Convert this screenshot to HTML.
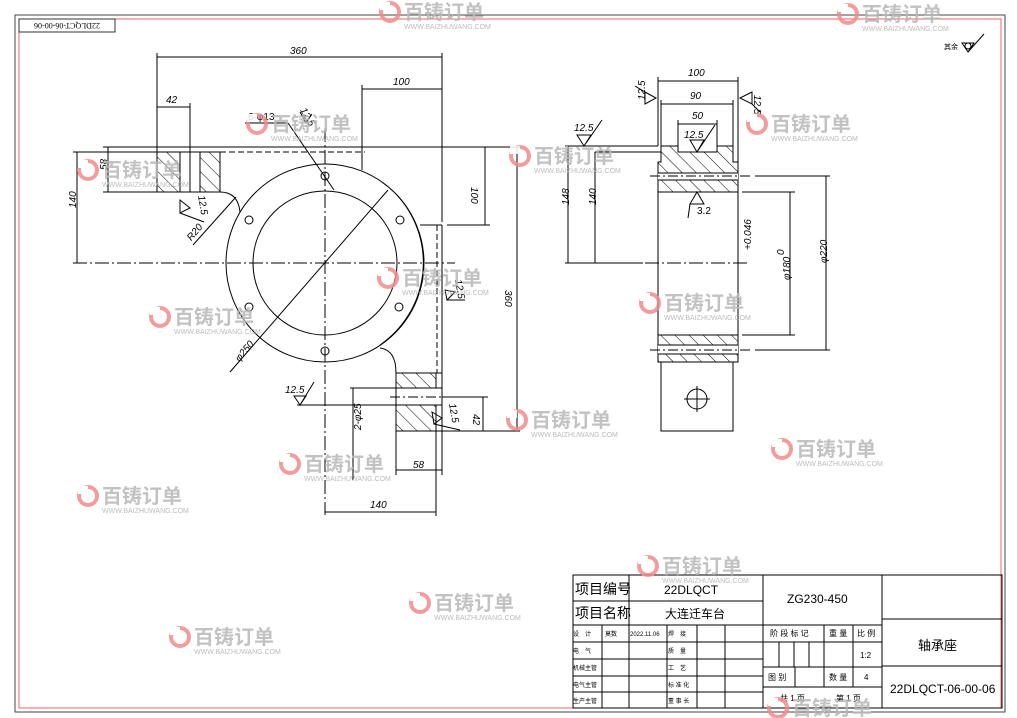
<!DOCTYPE html>
<html><head><meta charset="utf-8"><style>
html,body{margin:0;padding:0;background:#fff;}
svg{display:block;}
text{font-family:"Liberation Sans","Noto Sans CJK SC",sans-serif;}
.d{font-size:10px;font-style:italic;}
.c{font-family:"Liberation Serif","Noto Serif CJK SC",serif;}
.wm{font-family:"Liberation Sans","Noto Sans CJK SC",sans-serif;font-weight:bold;fill:#b8b8b8;font-size:20px;}
.wu{font-size:7px;fill:#b0b0b0;}
</style></head><body>
<svg width="1017" height="718" viewBox="0 0 1017 718" xmlns="http://www.w3.org/2000/svg">
<defs>
<pattern id="h" patternUnits="userSpaceOnUse" width="10" height="10" patternTransform="rotate(-45)">
<line x1="0" y1="0" x2="0" y2="10" stroke="#000" stroke-width="1"/>
</pattern>
<g id="wm">
<circle cx="10" cy="12" r="9" fill="none" stroke="#f28b8b" stroke-width="4"/>
<rect x="0" y="2" width="10" height="8" fill="#fff"/>
<text x="24" y="19" class="wm">百铸订单</text>
<text x="24" y="29" class="wu">WWW.BAIZHUWANG.COM</text>
</g>
</defs>
<!-- frame -->
<g fill="none">
<path d="M15 15 H1005 V712 H15 Z" stroke="#444" stroke-width="1"/>
<path d="M19 19 H1001 V708 H19 Z" stroke="#f06060" stroke-width="1"/>
<rect x="19" y="19" width="96" height="13" stroke="#333"/>
</g>
<text x="67" y="29" font-size="8" text-anchor="middle" transform="rotate(180 67 26)" class="c">22DLQCT-06-00-06</text>
<text x="944" y="49" font-size="7">其余</text>
<path d="M962 43 L974 43 L968 52 Z M968 52 L984 34" fill="none" stroke="#000"/>
<circle cx="968" cy="46" r="3" fill="none" stroke="#000"/>

<g stroke="#000" stroke-width="1" fill="none">
<!-- LEFT VIEW -->
<line x1="157" y1="57" x2="442" y2="57"/>
<line x1="157" y1="53" x2="157" y2="152"/>
<line x1="442" y1="53" x2="442" y2="222"/>
<line x1="362" y1="89" x2="442" y2="89"/>
<line x1="362" y1="85" x2="362" y2="170"/>
<line x1="157" y1="107" x2="190" y2="107"/>
<line x1="190" y1="103" x2="190" y2="192"/>
<line x1="103" y1="147" x2="520" y2="147"/>
<line x1="220" y1="152" x2="365" y2="152" stroke-dasharray="6 3"/>
<line x1="103" y1="192" x2="157" y2="192"/>
<line x1="108" y1="147" x2="108" y2="192"/>
<line x1="77" y1="152" x2="77" y2="263"/>
<line x1="73" y1="152" x2="157" y2="152"/>
<line x1="73" y1="263" x2="455" y2="263" stroke-dasharray="14 3 2 3"/>
<line x1="325" y1="128" x2="325" y2="515" stroke-dasharray="14 3 2 3"/>
<rect x="157" y="152" width="23" height="40" fill="url(#h)"/>
<rect x="200" y="152" width="20" height="40" fill="url(#h)"/>
<rect x="157" y="152" width="63" height="40"/>
<line x1="180" y1="152" x2="180" y2="192"/>
<line x1="200" y1="152" x2="200" y2="192"/>
<path d="M220 192 Q238 192 240 212"/>
<circle cx="325" cy="263" r="99"/>
<path d="M397 195 A100 100 0 0 1 380 345"/>
<circle cx="325" cy="263" r="72"/>
<g>
<circle cx="325" cy="176" r="4"/><circle cx="249" cy="220" r="4"/><circle cx="400" cy="220" r="4"/>
<circle cx="249" cy="307" r="4"/><circle cx="399" cy="307" r="4"/><circle cx="325" cy="351" r="4"/>
</g>
<line x1="388" y1="190" x2="230" y2="372"/>
<line x1="245" y1="123" x2="288" y2="123"/>
<line x1="288" y1="123" x2="334" y2="190"/>
<line x1="193" y1="245" x2="236" y2="197"/>
<!-- right portion -->
<line x1="420" y1="225" x2="442" y2="225"/>
<line x1="447" y1="225" x2="490" y2="225"/>
<line x1="485" y1="147" x2="485" y2="225"/>
<line x1="437" y1="225" x2="437" y2="373" stroke-dasharray="6 3"/>
<line x1="442" y1="225" x2="442" y2="475"/>
<path d="M380 348 Q396 350 396 373"/>
<rect x="396" y="373" width="40" height="15" fill="url(#h)"/>
<rect x="396" y="405" width="40" height="26" fill="url(#h)"/>
<rect x="396" y="373" width="46" height="58"/>
<line x1="396" y1="388" x2="442" y2="388"/>
<line x1="396" y1="405" x2="442" y2="405"/>
<line x1="390" y1="397" x2="455" y2="397" stroke-dasharray="10 3 2 3"/>
<line x1="396" y1="431" x2="396" y2="475"/>
<line x1="396" y1="470" x2="442" y2="470"/>
<line x1="325" y1="512" x2="436" y2="512"/>
<line x1="436" y1="431" x2="436" y2="516"/>
<line x1="353" y1="388" x2="353" y2="480"/>
<line x1="350" y1="388" x2="396" y2="388"/>
<line x1="297" y1="405" x2="396" y2="405"/>
<line x1="483" y1="397" x2="483" y2="431"/>
<line x1="442" y1="431" x2="520" y2="431"/>
<line x1="442" y1="397" x2="488" y2="397"/>
<line x1="517" y1="147" x2="517" y2="431"/>
<!-- roughness marks left view -->
<path d="M294 396 L306 396 L300 405 Z M300 405 L314 382"/>
<path d="M180 200 L190 208 L180 213 Z M180 213 L204 222"/>
<path d="M300 112 L306 123 L312 114"/>
<path d="M445 290 L455 292 L447 300 Z M447 300 L465 300"/>
<path d="M432 412 L442 418 L434 424 Z M434 424 L460 430"/>

<!-- RIGHT VIEW -->
<line x1="658" y1="81" x2="738" y2="81"/>
<line x1="658" y1="77" x2="658" y2="146"/>
<line x1="738" y1="77" x2="738" y2="165"/>
<line x1="661" y1="104" x2="733" y2="104"/>
<line x1="661" y1="100" x2="661" y2="146"/>
<line x1="733" y1="100" x2="733" y2="146"/>
<line x1="678" y1="124" x2="717" y2="124"/>
<line x1="678" y1="120" x2="678" y2="152"/>
<line x1="717" y1="120" x2="717" y2="152"/>
<path d="M661 146 H678 V152 H717 V146 H733 V162 H738 V192 H658 V162 H661 Z" fill="url(#h)"/>
<rect x="658" y="173" width="80" height="7" fill="#fff" stroke="none"/>
<line x1="658" y1="173" x2="738" y2="173"/>
<line x1="658" y1="180" x2="738" y2="180"/>
<line x1="650" y1="176" x2="752" y2="176" stroke-dasharray="10 3 2 3"/>
<line x1="658" y1="192" x2="658" y2="362"/>
<line x1="738" y1="192" x2="738" y2="362"/>
<rect x="658" y="335" width="80" height="27" fill="url(#h)"/>
<rect x="658" y="345" width="80" height="9" fill="#fff" stroke="none"/>
<line x1="658" y1="345" x2="738" y2="345"/>
<line x1="658" y1="354" x2="738" y2="354"/>
<line x1="658" y1="335" x2="738" y2="335"/>
<line x1="658" y1="362" x2="738" y2="362"/>
<line x1="650" y1="350" x2="752" y2="350" stroke-dasharray="10 3 2 3"/>
<rect x="661" y="362" width="72" height="69"/>
<circle cx="697" cy="399" r="10"/>
<line x1="684" y1="399" x2="710" y2="399"/>
<line x1="697" y1="386" x2="697" y2="412"/>
<line x1="645" y1="263" x2="748" y2="263" stroke-dasharray="14 3 2 3"/>
<line x1="568" y1="146" x2="568" y2="263"/>
<line x1="595" y1="152" x2="595" y2="263"/>
<line x1="565" y1="146" x2="658" y2="146"/>
<line x1="595" y1="152" x2="661" y2="152"/>
<line x1="565" y1="263" x2="643" y2="263"/>
<line x1="790" y1="192" x2="790" y2="335"/>
<line x1="742" y1="192" x2="795" y2="192"/>
<line x1="742" y1="335" x2="795" y2="335"/>
<line x1="826" y1="176" x2="826" y2="350"/>
<line x1="755" y1="176" x2="830" y2="176"/>
<line x1="755" y1="350" x2="830" y2="350"/>
<!-- roughness right view -->
<path d="M577 135 L591 135 L584 146 Z M584 146 L602 120"/>
<path d="M690 140 L704 140 L697 152 Z M697 152 L715 125"/>
<path d="M690 204 L704 204 L697 192 Z M690 204 L688 218"/>
<path d="M645 92 L656 98 L645 104 Z M645 92 L635 86"/>
<path d="M752 92 L740 98 L752 104 Z M752 104 L760 112"/>

<!-- TITLE BLOCK -->
<rect x="573" y="575" width="429" height="133"/>
<line x1="573" y1="601" x2="763" y2="601"/>
<line x1="573" y1="625" x2="882" y2="625"/>
<line x1="573" y1="642" x2="882" y2="642"/>
<line x1="573" y1="659" x2="763" y2="659"/>
<line x1="573" y1="676" x2="763" y2="676"/>
<line x1="573" y1="692" x2="763" y2="692"/>
<line x1="602" y1="625" x2="602" y2="708"/>
<line x1="629" y1="575" x2="629" y2="708"/>
<line x1="667" y1="625" x2="667" y2="708"/>
<line x1="697" y1="625" x2="697" y2="708"/>
<line x1="725" y1="625" x2="725" y2="708"/>
<line x1="763" y1="575" x2="763" y2="708"/>
<line x1="882" y1="575" x2="882" y2="708"/>
<line x1="882" y1="619" x2="1002" y2="619"/>
<line x1="882" y1="666" x2="1002" y2="666"/>
<line x1="763" y1="667" x2="882" y2="667"/>
<line x1="763" y1="687" x2="882" y2="687"/>
<line x1="824" y1="625" x2="824" y2="687"/>
<line x1="853" y1="625" x2="853" y2="687"/>
<line x1="795" y1="667" x2="795" y2="687"/>
<line x1="779" y1="642" x2="779" y2="667"/>
<line x1="794" y1="642" x2="794" y2="667"/>
<line x1="809" y1="642" x2="809" y2="667"/>
</g>

<!-- dimension texts -->
<g class="d">
<text x="290" y="54">360</text>
<text x="393" y="85">100</text>
<text x="166" y="103">42</text>
<text x="248" y="120" font-style="normal">6-φ13</text>
<text x="102" y="175" transform="rotate(-90 102 170)">58</text>
<text x="71" y="213" transform="rotate(-90 71 208)">140</text>
<text x="476" y="192" transform="rotate(90 476 187)">100</text>
<text x="510" y="295" transform="rotate(90 510 290)">360</text>
<text x="477" y="418" transform="rotate(90 477 414)">42</text>
<text x="346" y="445" transform="rotate(-90 346 430)">2-φ25</text>
<text x="413" y="468">58</text>
<text x="370" y="508">140</text>
<text x="186" y="240" transform="rotate(-50 190 235)">R20</text>
<text x="232" y="358" transform="rotate(-50 240 352)">φ250</text>
<text x="285" y="393">12.5</text>
<text x="198" y="196" transform="rotate(80 198 196)">12.5</text>
<text x="300" y="110" transform="rotate(60 300 110)">12.5</text>
<text x="455" y="280" transform="rotate(80 455 280)">12.5</text>
<text x="449" y="404" transform="rotate(80 449 404)">12.5</text>
<text x="688" y="76">100</text>
<text x="690" y="99">90</text>
<text x="692" y="119">50</text>
<text x="684" y="138">12.5</text>
<text x="574" y="131">12.5</text>
<text x="640" y="105" transform="rotate(-90 640 100)">12.5</text>
<text x="754" y="95" transform="rotate(90 754 95)">12.5</text>
<text x="697" y="214" font-style="normal">3.2</text>
<text x="562" y="212" transform="rotate(-90 562 205)">148</text>
<text x="589" y="212" transform="rotate(-90 589 205)">140</text>
<text x="769" y="232" transform="rotate(-90 769 250)">+0.046</text>
<text x="781" y="258" transform="rotate(-90 781 255)">0</text>
<text x="783" y="287" transform="rotate(-90 783 280)">φ180</text>
<text x="820" y="270" transform="rotate(-90 820 263)">φ220</text>
</g>

<!-- title block text -->
<g class="c" fill="#000">
<text x="575" y="594" font-size="14">项目编号</text>
<text x="575" y="618" font-size="14">项目名称</text>
<text x="664" y="594" font-size="12">22DLQCT</text>
<text x="665" y="618" font-size="12">大连迁车台</text>
<text x="787" y="603" font-size="12">ZG230-450</text>
<text x="918" y="650" font-size="13">轴承座</text>
<text x="890" y="693" font-size="12">22DLQCT-06-00-06</text>
<g font-size="6">
<text x="573" y="636">设　计</text><text x="605" y="636">莫数</text><text x="630" y="636">2022.11.06</text><text x="668" y="636">焊　接</text>
<text x="573" y="653">电　气</text><text x="668" y="653">质　量</text>
<text x="573" y="670">机械主管</text><text x="668" y="670">工　艺</text>
<text x="573" y="687">电气主管</text><text x="668" y="687">标 准 化</text>
<text x="573" y="703">生产主管</text><text x="668" y="703">董 事 长</text>
</g>
<g font-size="8">
<text x="770" y="636">阶 段 标 记</text><text x="829" y="636">重 量</text><text x="857" y="636">比 例</text>
<text x="860" y="658">1:2</text>
<text x="768" y="680">图 别</text><text x="829" y="680">数 量</text><text x="864" y="680">4</text>
<text x="780" y="701">共 1 页</text><text x="836" y="701">第 1 页</text>
</g>
</g>

<!-- watermarks -->
<g opacity="0.85">
<use href="#wm" x="247" y="112"/>
<use href="#wm" x="510" y="144"/>
<use href="#wm" x="747" y="112"/>
<use href="#wm" x="378" y="266"/>
<use href="#wm" x="640" y="291"/>
<use href="#wm" x="150" y="305"/>
<use href="#wm" x="280" y="452"/>
<use href="#wm" x="507" y="408"/>
<use href="#wm" x="772" y="437"/>
<use href="#wm" x="410" y="591"/>
<use href="#wm" x="170" y="625"/>
<use href="#wm" x="638" y="554"/>
<use href="#wm" x="838" y="2"/>
<use href="#wm" x="380" y="0"/>
<use href="#wm" x="768" y="696"/>
<use href="#wm" x="78" y="484"/>
<use href="#wm" x="78" y="158"/>
</g>
</svg>
</body></html>
